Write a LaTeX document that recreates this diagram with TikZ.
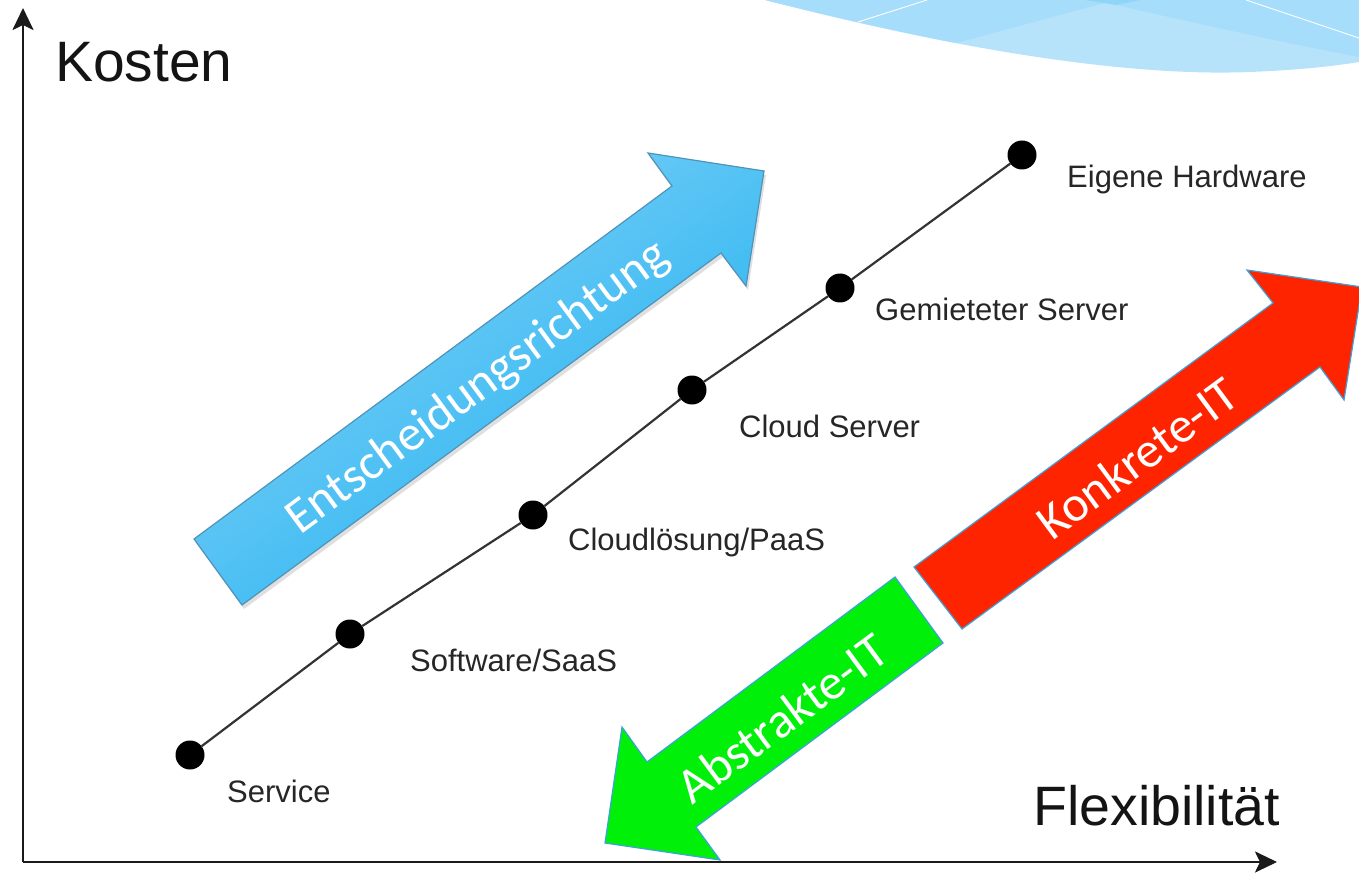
\documentclass[tikz,border=0pt]{standalone}
\usepackage{fontspec}
\setmainfont{Liberation Sans}
\newfontfamily\calib{Carlito}
\usetikzlibrary{shadows,arrows.meta}
\definecolor{decoA}{HTML}{B6E3FA}
\definecolor{decoB}{HTML}{A5DDFA}
\definecolor{decoC}{HTML}{8FD5F8}
\definecolor{blueL}{HTML}{86D3F9}
\definecolor{blueD}{HTML}{1EB0EE}
\definecolor{blueEdge}{HTML}{4F93B8}
\definecolor{arrEdge}{HTML}{3DA2DC}
\definecolor{redF}{HTML}{FF2400}
\definecolor{greenF}{HTML}{00F00A}
\definecolor{axisC}{HTML}{1A1A1A}
\definecolor{lineC}{HTML}{333333}
\tikzset{
  axisline/.style={draw=axisC, line width=2.6pt, -{Stealth[length=22pt,width=21pt,inset=5pt]}},
  dotnode/.style={circle, fill=black, inner sep=0pt, minimum size=29pt},
  chainline/.style={draw=lineC, line width=2.2pt},
  lab/.style={anchor=base west, inner sep=0pt, text=black!85, font=\fontsize{31}{36}\selectfont},
  axlab/.style={anchor=base west, inner sep=0pt, text=black!92},
  bigarrow/.style={line width=1.2pt, line join=miter},
  arrtxt/.style={text=white, inner sep=0pt, rotate=36.4, font=\calib\fontsize{50}{60}\selectfont}
}
\begin{document}
\begin{tikzpicture}[x=1pt,y=-1pt]
\useasboundingbox (0,0) rectangle (1359,874);
% top-right decoration
\fill[decoA] (765,0) .. controls (900,35) and (1100,78) .. (1250,72) .. controls (1300,70) and (1335,66) .. (1359,62) -- (1359,0) -- cycle;
\fill[decoB] (765,0) .. controls (830,16) and (900,32) .. (956,43) -- (1116,0) -- cycle;
\fill[decoB] (1095,0) .. controls (1180,20) and (1280,42) .. (1359,57) -- (1359,0) -- cycle;
\fill[decoC] (1085,0) -- (1140,0) -- (1116,5) -- cycle;
\draw[white, line width=0.9pt] (858,22) -- (927,0);
\draw[white, line width=0.9pt] (1246,0) -- (1359,38);
% axes
\coordinate (O) at (23,862);
\coordinate (ytip) at (23,8);
\coordinate (xtip) at (1277,862);
\draw[axisline] (O) -- (ytip);
\draw[axisline] (O) -- (xtip);
\node[axlab, font=\fontsize{57}{68}\selectfont] (kosten) at (55,82) {Kosten};
\node[axlab, font=\fontsize{55.5}{66}\selectfont] (flex) at (1033,825) {Flexibilität};
% blue arrow
\path[bigarrow, draw=blueEdge, top color=blueL, bottom color=blueD, shading angle=36,
  drop shadow={shadow xshift=2pt, shadow yshift=-4pt, opacity=0.25}]
  (194,539) -- (672,186) -- (648,153) -- (764,171) -- (746,286) -- (721,253) -- (242,605) -- cycle;
\node[arrtxt] (tblue) at (478,388) {Entscheidungsrichtung};
% red arrow
\path[bigarrow, draw=arrEdge, fill=redF]
  (914,567) -- (1273,303) -- (1247,270) -- (1362,287) -- (1344,400) -- (1320,367) -- (962,629) -- cycle;
\node[arrtxt] (tred) at (1137,458) {Konkrete-IT};
% green arrow
\path[bigarrow, draw=arrEdge, fill=greenF]
  (895,577) -- (943,643) -- (696,827) -- (720,860) -- (605,843) -- (622,727) -- (647,762) -- cycle;
\node[arrtxt] (tgreen) at (782,718) {Abstrakte-IT};
% chain of options
\node[dotnode] (d1) at (190,755) {};
\node[dotnode] (d2) at (350,634) {};
\node[dotnode] (d3) at (533,515) {};
\node[dotnode] (d4) at (692,390) {};
\node[dotnode] (d5) at (840,288) {};
\node[dotnode] (d6) at (1022,155) {};
\draw[chainline] (d1) -- (d2) -- (d3) -- (d4) -- (d5) -- (d6);
\node[lab] (l1) at (227,802) {Service};
\node[lab] (l2) at (410,671) {Software/SaaS};
\node[lab] (l3) at (568,550) {Cloudlösung/PaaS};
\node[lab] (l4) at (739,437) {Cloud Server};
\node[lab] (l5) at (875,321) {Gemieteter Server};
\node[lab] (l6) at (1067,188) {Eigene Hardware};
\end{tikzpicture}
\end{document}
